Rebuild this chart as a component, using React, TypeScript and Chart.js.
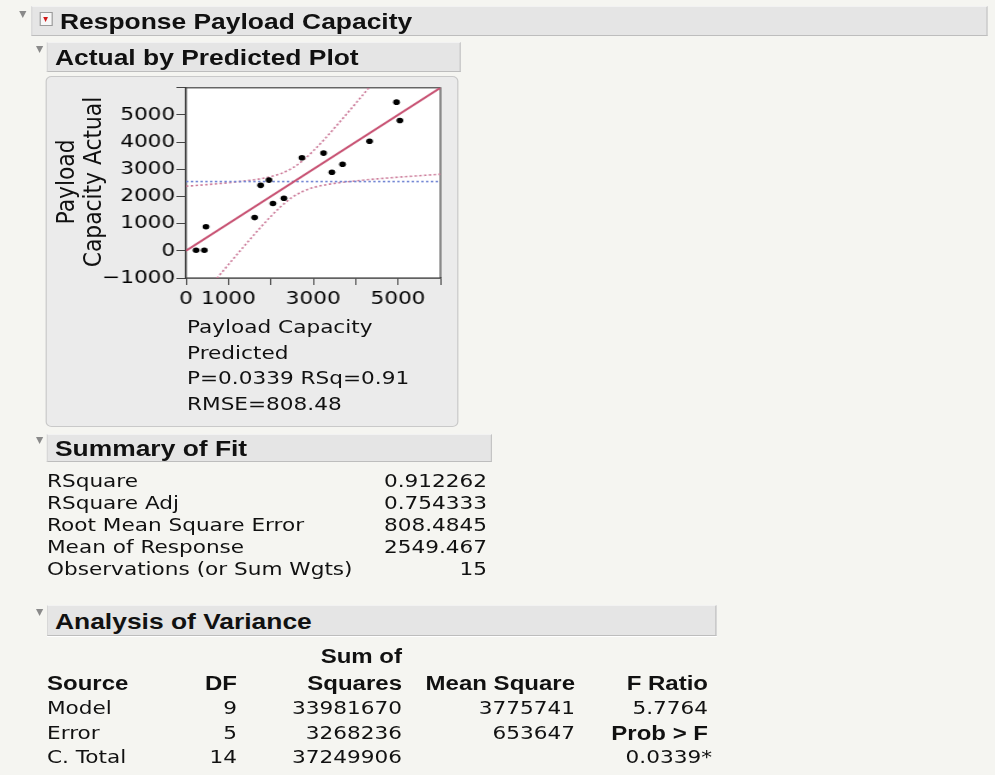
import React, { useEffect, useRef } from "react";
import { Chart, registerables } from "chart.js";

Chart.register(...registerables);

// ---------- data ----------
const predicted = [236, 432, 471, 1618, 1760, 1956, 2050, 2310, 2734, 3244, 3441, 3692, 4328, 4965, 5043];
const actual = [24, 24, 884, 1223, 2409, 2603, 1743, 1937, 3426, 3596, 2893, 3184, 4031, 5472, 4794];
const meanResponse = 2549.467;
const fitLineX = [0, 6000];
const fitLineY = [0, 6000];
const upperCurveX = [0, 500, 1000, 1500, 1750, 2000, 2250, 2500, 2750, 3000, 3250, 3500, 3750, 4000, 4250, 4500];
const upperCurveY = [2378, 2438, 2507, 2594, 2651, 2733, 2851, 3038, 3317, 3675, 4083, 4517, 4966, 5424, 5886, 6353];
const lowerCurveX = [600, 750, 1000, 1250, 1500, 1750, 2000, 2250, 2500, 2750, 3000, 3250, 3500, 4000, 4500, 5000, 5500, 6000];
const lowerCurveY = [-1251, -971, -507, -47, 406, 847, 1267, 1649, 1962, 2183, 2325, 2417, 2483, 2576, 2647, 2709, 2765, 2818];
const xLabelledTicks = [0, 1000, 3000, 5000];
const yHiddenTicks = [6000];

const yTitleLines = ["Payload", "Capacity Actual"];
const xTitleLines = ["Payload Capacity", "Predicted", "P=0.0339 RSq=0.91", "RMSE=808.48"];

const summaryLabels = ["RSquare", "RSquare Adj", "Root Mean Square Error", "Mean of Response", "Observations (or Sum Wgts)"];
const summaryValues = ["0.912262", "0.754333", "808.4845", "2549.467", "15"];

const anovaSources = ["Model", "Error", "C. Total"];
const anovaDF = ["9", "5", "14"];
const anovaSS = ["33981670", "3268236", "37249906"];
const anovaMS = ["3775741", "653647", ""];
const anovaLast = ["5.7764", "Prob > F", "0.0339*"];

// ---------- layout helpers (page coords; page is stretched horizontally) ----------
const S = 1.2;
const X = (x: number) => x / S;
const BODY = "'DejaVu Sans', sans-serif";
const HEAD = "'Liberation Sans', Arial, sans-serif";

function Txt(props: { x: number; cy: number; text: string; align?: "left" | "right"; bold?: boolean; size?: number; font?: string }) {
  const { x, cy, text, align = "left", bold = false, size = 18, font } = props;
  const lh = 24;
  return (
    <div
      style={{
        position: "absolute",
        left: X(x),
        top: cy - lh / 2,
        height: lh,
        lineHeight: lh + "px",
        fontSize: size,
        fontFamily: font || (bold ? HEAD : BODY),
        fontWeight: bold ? 700 : 400,
        whiteSpace: "nowrap",
        color: "#111",
        transform: align === "right" ? "translateX(-100%)" : undefined,
      }}
    >
      {text}
    </div>
  );
}

function Tri(props: { x: number; y: number }) {
  return (
    <div
      style={{
        position: "absolute",
        left: X(props.x),
        top: props.y,
        width: 0,
        height: 0,
        borderLeft: X(4) + "px solid transparent",
        borderRight: X(4) + "px solid transparent",
        borderTop: "7px solid #8a8a8a",
      }}
    />
  );
}

function Bar(props: { x1: number; x2: number; y1: number; y2: number; title: string; size?: number; textX: number }) {
  const { x1, x2, y1, y2, title, size = 22, textX } = props;
  return (
    <>
      <div
        style={{
          position: "absolute",
          left: X(x1),
          top: y1,
          width: X(x2 - x1),
          height: y2 - y1,
          boxSizing: "border-box",
          background: "#e5e5e5",
          borderTop: "1px solid #f2f2f2",
          borderLeft: "1px solid #d8d8d8",
          borderRight: "1px solid #c4c4c4",
          borderBottom: "1px solid #bdbdbd",
        }}
      />
      <Txt x={textX} cy={(y1 + y2) / 2 + 1} text={title} bold size={size} />
    </>
  );
}

function Plot() {
  const ref = useRef<HTMLCanvasElement | null>(null);
  useEffect(() => {
    if (!ref.current) return;
    const pts = (xs: number[], ys: number[]) => xs.map((x, i) => ({ x, y: ys[i] }));
    const framePlugin = {
      id: "frame",
      beforeDatasetsDraw(chart: any) {
        const { ctx, chartArea } = chart;
        const { left, top, right, bottom } = chartArea;
        ctx.save();
        ctx.fillStyle = "#ffffff";
        ctx.fillRect(left, top, right - left, bottom - top);
        ctx.strokeStyle = "#444";
        ctx.lineWidth = 1.2;
        ctx.strokeRect(left, top, right - left, bottom - top);
        ctx.restore();
      },
    };
    const chart = new Chart(ref.current, {
      type: "scatter",
      data: {
        datasets: [
          {
            label: "Actual",
            data: pts(predicted, actual),
            backgroundColor: "#000",
            borderColor: "#000",
            pointRadius: 2.8,
            pointBorderWidth: 0,
            showLine: false,
          },
          {
            label: "Fit",
            data: pts(fitLineX, fitLineY),
            showLine: true,
            borderColor: "rgb(200,82,115)",
            borderWidth: 2,
            pointRadius: 0,
          },
          {
            label: "Mean",
            data: pts(fitLineX, [meanResponse, meanResponse]),
            showLine: true,
            borderColor: "rgb(115,135,212)",
            borderWidth: 1.6,
            borderDash: [2, 2],
            pointRadius: 0,
          },
          {
            label: "Upper",
            data: pts(upperCurveX, upperCurveY),
            showLine: true,
            borderColor: "rgb(205,125,155)",
            borderWidth: 1.6,
            borderDash: [2, 2],
            pointRadius: 0,
            cubicInterpolationMode: "monotone",
          },
          {
            label: "Lower",
            data: pts(lowerCurveX, lowerCurveY),
            showLine: true,
            borderColor: "rgb(205,125,155)",
            borderWidth: 1.6,
            borderDash: [2, 2],
            pointRadius: 0,
            cubicInterpolationMode: "monotone",
          },
        ],
      },
      options: {
        animation: false,
        responsive: false,
        devicePixelRatio: 1,
        layout: { padding: { top: 10, right: 15, left: 0, bottom: 0 } },
        plugins: { legend: { display: false }, tooltip: { enabled: false }, title: { display: false } },
        scales: {
          x: {
            type: "linear",
            min: 0,
            max: 6000,
            afterFit: (scale: any) => {
              scale.height = 149;
            },
            ticks: {
              stepSize: 1000,
              autoSkip: false,
              maxRotation: 0,
              padding: 4,
              color: "#000",
              font: { family: "DejaVu Sans", size: 18 },
              callback: (v: any) => (xLabelledTicks.includes(Number(v)) ? String(v) : ""),
            },
            grid: { drawOnChartArea: false, drawTicks: true, tickLength: 7, color: "#444", lineWidth: 1 },
            border: { display: true, color: "#333", width: 1.5 },
          },
          y: {
            type: "linear",
            min: -1000,
            max: 6000,
            afterFit: (scale: any) => {
              scale.width = 117;
            },
            ticks: {
              stepSize: 1000,
              autoSkip: false,
              padding: 1,
              color: "#000",
              font: { family: "DejaVu Sans", size: 18 },
              callback: (v: any) => {
                const n = Number(v);
                if (yHiddenTicks.includes(n)) return "";
                return n < 0 ? "\u2212" + String(-n) : String(n);
              },
            },
            grid: { drawOnChartArea: false, drawTicks: true, tickLength: 8, color: "#444", lineWidth: 1 },
            border: { display: true, color: "#333", width: 1.5 },
          },
        },
      },
      plugins: [framePlugin],
    } as any);
    return () => chart.destroy();
  }, []);
  return (
    <canvas
      ref={ref}
      width={344}
      height={351}
      style={{ position: "absolute", left: X(46), top: 76, width: 344, height: 351 }}
    />
  );
}

export default function App() {
  const rowsY = [481, 503, 525, 547, 569];
  const anovaRowsY = [708, 733, 757];
  return (
    <div
      style={{
        position: "absolute",
        left: 0,
        top: 0,
        width: 995,
        height: 775,
        overflow: "hidden",
        background: "#f5f5f1",
      }}
    >
      <div
        style={{
          position: "absolute",
          left: 0,
          top: 0,
          width: X(995),
          height: 775,
          transform: `scaleX(${S})`,
          transformOrigin: "0 0",
        }}
      >
        {/* top header */}
        <Tri x={19} y={11} />
        <Bar x1={31} x2={988} y1={6} y2={36} title="Response Payload Capacity" textX={60} />
        <div
          style={{
            position: "absolute",
            left: X(39),
            top: 12,
            width: X(14),
            height: 14,
            boxSizing: "border-box",
            border: "1px solid #9a9a9a",
            background: "#f7f7f7",
          }}
        >
          <div
            style={{
              position: "absolute",
              left: X(3),
              top: 4,
              width: 0,
              height: 0,
              borderLeft: X(3.5) + "px solid transparent",
              borderRight: X(3.5) + "px solid transparent",
              borderTop: "5px solid #d01818",
            }}
          />
        </div>

        {/* Actual by Predicted Plot */}
        <Tri x={36} y={46} />
        <Bar x1={47} x2={461} y1={42} y2={72} title="Actual by Predicted Plot" textX={55} />
        <div
          style={{
            position: "absolute",
            left: X(46),
            top: 76,
            width: X(413),
            height: 351,
            boxSizing: "border-box",
            background: "#ebebeb",
            border: "1px solid #c9c9c9",
            borderRadius: 5,
          }}
        />
        <Plot />
        {/* y axis title */}
        {yTitleLines.map((t, i) => (
          <div
            key={t}
            style={{
              position: "absolute",
              left: X(i === 0 ? 66 : 92),
              top: 182,
              transform: "translate(-50%,-50%) rotate(-90deg) scaleX(1.09)",
              whiteSpace: "nowrap",
              fontFamily: BODY,
              fontSize: 20,
              lineHeight: "22px",
              color: "#111",
            }}
          >
            {t}
          </div>
        ))}
        {/* x axis title & stats */}
        {xTitleLines.map((t, i) => (
          <Txt key={t} x={187} cy={327 + i * 25.5} text={t} />
        ))}

        {/* Summary of Fit */}
        <Tri x={36} y={437} />
        <Bar x1={47} x2={492} y1={434} y2={462} title="Summary of Fit" textX={55} />
        {summaryLabels.map((t, i) => (
          <React.Fragment key={t}>
            <Txt x={47} cy={rowsY[i]} text={t} />
            <Txt x={487} cy={rowsY[i]} text={summaryValues[i]} align="right" />
          </React.Fragment>
        ))}

        {/* Analysis of Variance */}
        <Tri x={36} y={609} />
        <Bar x1={47} x2={716} y1={605} y2={636} title="Analysis of Variance" textX={55} />
        <Txt x={402} cy={656} text="Sum of" align="right" bold size={20} />
        <Txt x={47} cy={683} text="Source" bold size={20} />
        <Txt x={237} cy={683} text="DF" align="right" bold size={20} />
        <Txt x={402} cy={683} text="Squares" align="right" bold size={20} />
        <Txt x={575} cy={683} text="Mean Square" align="right" bold size={20} />
        <Txt x={708} cy={683} text="F Ratio" align="right" bold size={20} />
        {anovaSources.map((s, i) => (
          <React.Fragment key={s}>
            <Txt x={47} cy={anovaRowsY[i]} text={s} />
            <Txt x={237} cy={anovaRowsY[i]} text={anovaDF[i]} align="right" />
            <Txt x={402} cy={anovaRowsY[i]} text={anovaSS[i]} align="right" />
            {anovaMS[i] ? <Txt x={575} cy={anovaRowsY[i]} text={anovaMS[i]} align="right" /> : null}
            <Txt
              x={i === 2 ? 712 : 708}
              cy={anovaRowsY[i]}
              text={anovaLast[i]}
              align="right"
              bold={i === 1}
              size={i === 1 ? 20 : 18}
            />
          </React.Fragment>
        ))}
      </div>
    </div>
  );
}
